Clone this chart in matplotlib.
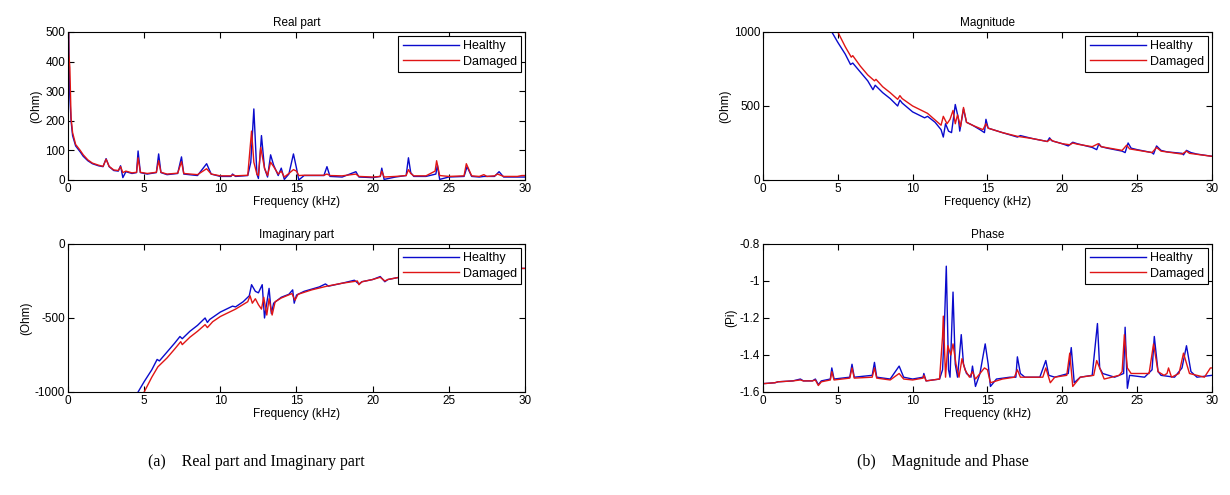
import numpy as np
import matplotlib.pyplot as plt
from matplotlib.ticker import FormatStrFormatter

plt.rcParams['font.family'] = ['Liberation Sans', 'DejaVu Sans']
plt.rcParams['axes.unicode_minus'] = False

# values: (frequency kHz, value)
real_healthy = [(0, 800), (0.05, 480), (0.1, 300), (0.2, 200), (0.3, 150), (0.5, 115), (0.8, 95),
                (1.0, 80), (1.3, 65), (1.6, 55), (2.0, 48), (2.3, 45), (2.5, 72), (2.7, 45), (3.0, 32),
                (3.3, 30), (3.45, 48), (3.6, 8), (3.8, 28), (4.2, 22), (4.5, 25), (4.6, 98), (4.75, 25),
                (5.2, 20), (5.8, 25), (5.95, 88), (6.1, 25), (6.5, 18), (7.2, 22), (7.45, 78), (7.6, 20),
                (8.5, 15), (9.1, 55), (9.4, 20), (10, 12), (10.7, 12), (10.8, 20), (11, 12), (11.8, 15),
                (12.0, 60), (12.2, 240), (12.4, 20), (12.5, 5), (12.7, 150), (12.9, 40), (13.1, 10),
                (13.3, 85), (13.5, 50), (13.8, 15), (14.0, 40), (14.2, 2), (14.5, 20), (14.8, 88),
                (15.0, 40), (15.15, 0), (15.5, 15), (16, 15), (16.8, 15), (17.0, 45), (17.2, 12),
                (18, 10), (18.9, 28), (19.1, 10), (20, 8), (20.5, 12), (20.6, 40), (20.75, 2),
                (21.5, 10), (22.2, 15), (22.35, 75), (22.5, 25), (22.7, 12), (23.5, 12), (24.15, 20),
                (24.25, 50), (24.4, 2), (25.0, 10), (26, 12), (26.2, 45), (26.5, 12), (27, 10),
                (27.3, 12), (28, 12), (28.3, 28), (28.6, 10), (29.5, 10), (30, 10)]
real_damaged = [(0, 800), (0.05, 430), (0.12, 380), (0.2, 210), (0.3, 160), (0.5, 120), (0.8, 100),
                (1.0, 85), (1.3, 68), (1.6, 57), (2.0, 50), (2.3, 46), (2.5, 70), (2.7, 46), (3.0, 34),
                (3.3, 32), (3.45, 45), (3.6, 25), (3.8, 30), (4.2, 24), (4.5, 26), (4.6, 75), (4.75, 26),
                (5.2, 22), (5.8, 26), (5.95, 65), (6.1, 26), (6.5, 20), (7.2, 23), (7.45, 62), (7.6, 22),
                (8.5, 18), (9.1, 38), (9.4, 20), (10, 14), (10.7, 14), (10.8, 17), (11, 14), (11.8, 16),
                (12.05, 165), (12.2, 60), (12.4, 20), (12.5, 15), (12.65, 110), (12.9, 40), (13.1, 15),
                (13.3, 60), (13.5, 45), (13.8, 20), (14.0, 30), (14.2, 10), (14.5, 22), (14.8, 35),
                (15.0, 30), (15.15, 15), (15.5, 16), (16, 16), (16.8, 16), (17.0, 20), (17.2, 15),
                (18, 14), (18.9, 20), (19.1, 12), (20, 10), (20.5, 12), (20.6, 30), (20.75, 10),
                (21.5, 12), (22.2, 15), (22.35, 35), (22.5, 22), (22.7, 14), (23.5, 14), (24.1, 30),
                (24.2, 65), (24.4, 15), (25.0, 12), (26, 14), (26.15, 55), (26.5, 14), (27, 12),
                (27.3, 18), (27.5, 12), (28, 14), (28.2, 20), (28.6, 12), (29.5, 12), (29.8, 15), (30, 15)]

imag_healthy = [(4.0, -1150), (4.6, -1000), (5.0, -930), (5.5, -850), (5.85, -780), (6.0, -790),
                (6.5, -730), (7.0, -670), (7.35, -625), (7.5, -640), (8.0, -590), (8.5, -550),
                (9.0, -500), (9.15, -530), (9.3, -510), (10, -460), (10.8, -420), (11.0, -425),
                (11.5, -390), (11.9, -350), (12.05, -275), (12.3, -320), (12.5, -330), (12.75, -275),
                (12.9, -500), (13.0, -430), (13.2, -300), (13.35, -470), (13.5, -400), (14, -360),
                (14.5, -340), (14.75, -310), (14.85, -400), (15.0, -345), (15.5, -320), (16, -305),
                (16.5, -290), (16.9, -270), (17.1, -285), (18, -265), (18.8, -245), (19.1, -270),
                (19.3, -255), (20, -240), (20.5, -220), (20.8, -255), (21.0, -240), (22, -220),
                (23, -205), (24, -190), (24.3, -195), (25, -185), (26, -175), (27, -170), (28, -168),
                (29, -165), (30, -165)]
imag_damaged = [(4.5, -1100), (5.0, -1000), (5.5, -900), (5.9, -830), (6.5, -770), (7.0, -710),
                (7.4, -660), (7.5, -680), (8, -630), (8.5, -590), (9.0, -545), (9.15, -565),
                (9.5, -525), (10, -490), (11, -440), (11.8, -390), (11.95, -350), (12.1, -400),
                (12.3, -370), (12.5, -410), (12.7, -440), (12.85, -360), (13.05, -480), (13.2, -370),
                (13.4, -480), (13.6, -390), (14, -365), (14.7, -335), (14.9, -380), (15.1, -340),
                (16, -310), (17, -285), (18, -265), (19, -250), (19.1, -275), (19.3, -255), (20, -240),
                (20.5, -225), (20.8, -250), (21, -240), (22, -220), (23, -205), (24, -192), (25, -185),
                (26, -176), (27, -170), (28, -168), (29, -165), (30, -165)]

mag_healthy = [(4.0, 1100), (4.6, 1000), (5.0, 930), (5.5, 850), (5.85, 780), (6.0, 790), (6.5, 730),
               (7.0, 670), (7.35, 610), (7.5, 640), (8, 590), (8.5, 550), (9.0, 500), (9.15, 540),
               (9.3, 520), (10, 460), (10.8, 420), (11, 430), (11.5, 390), (11.9, 340), (12.05, 290),
               (12.2, 380), (12.4, 330), (12.6, 320), (12.85, 510), (13.05, 420), (13.15, 330),
               (13.4, 480), (13.6, 390), (14, 370), (14.5, 340), (14.8, 320), (14.9, 410), (15.05, 350),
               (16, 320), (17, 290), (17.2, 300), (18, 280), (19, 260), (19.15, 285), (19.3, 265),
               (20, 245), (20.4, 230), (20.7, 255), (21, 245), (22, 220), (22.3, 205), (22.45, 245),
               (22.6, 225), (23, 215), (24, 195), (24.2, 185), (24.4, 250), (24.6, 215), (25, 205),
               (26, 185), (26.1, 175), (26.3, 230), (26.6, 200), (27, 190), (28, 180), (28.1, 170),
               (28.3, 200), (28.6, 185), (29, 175), (30, 160)]
mag_damaged = [(4.5, 1100), (5.0, 1000), (5.5, 900), (5.9, 830), (6.0, 840), (6.5, 770), (7.0, 710),
               (7.45, 670), (7.55, 680), (8, 630), (8.5, 590), (9.0, 545), (9.15, 570), (9.3, 550),
               (10, 500), (11, 450), (11.9, 370), (12.05, 430), (12.3, 380), (12.5, 410), (12.7, 470),
               (12.85, 380), (13.0, 440), (13.2, 360), (13.4, 490), (13.6, 390), (14, 370), (14.7, 340),
               (14.9, 380), (15.05, 350), (16, 320), (17, 295), (18, 280), (19, 260), (19.2, 275),
               (19.4, 262), (20, 245), (20.5, 238), (20.7, 250), (21, 242), (22, 225), (22.4, 245),
               (22.6, 225), (24, 200), (24.3, 235), (24.5, 210), (26, 185), (26.3, 220), (26.6, 195),
               (28, 175), (28.3, 195), (28.5, 180), (30, 160)]

phase_healthy = [(0, -1.555), (0.8, -1.55), (1, -1.545), (2, -1.54), (2.5, -1.53), (2.7, -1.54),
                 (3.3, -1.54), (3.5, -1.53), (3.7, -1.56), (3.9, -1.54), (4.5, -1.53), (4.6, -1.47),
                 (4.75, -1.53), (5.8, -1.52), (5.95, -1.45), (6.1, -1.52), (7.3, -1.51), (7.45, -1.44),
                 (7.6, -1.52), (8.5, -1.53), (9.1, -1.46), (9.4, -1.52), (10, -1.53), (10.7, -1.52),
                 (10.75, -1.50), (10.9, -1.54), (11.8, -1.53), (12.0, -1.48), (12.1, -1.30),
                 (12.25, -0.92), (12.4, -1.48), (12.5, -1.52), (12.7, -1.06), (12.85, -1.45),
                 (13.0, -1.52), (13.25, -1.29), (13.4, -1.45), (13.6, -1.50), (13.9, -1.52),
                 (14.0, -1.46), (14.2, -1.57), (14.5, -1.50), (14.85, -1.34), (15.05, -1.45),
                 (15.2, -1.57), (15.6, -1.53), (16.5, -1.52), (16.9, -1.52), (17.0, -1.41),
                 (17.2, -1.50), (17.5, -1.52), (18.5, -1.52), (18.9, -1.43), (19.1, -1.51),
                 (19.5, -1.52), (20.4, -1.50), (20.6, -1.36), (20.8, -1.55), (21.2, -1.52),
                 (22.0, -1.51), (22.35, -1.23), (22.5, -1.47), (22.7, -1.50), (23.5, -1.52),
                 (24.1, -1.50), (24.2, -1.25), (24.35, -1.58), (24.5, -1.51), (25.5, -1.52),
                 (26.0, -1.48), (26.15, -1.30), (26.4, -1.49), (26.6, -1.51), (27.5, -1.52),
                 (28.0, -1.47), (28.3, -1.35), (28.6, -1.49), (29, -1.52), (30, -1.51)]
phase_damaged = [(0, -1.555), (0.8, -1.55), (1, -1.545), (2, -1.54), (2.5, -1.535), (2.7, -1.54),
                 (3.3, -1.54), (3.5, -1.535), (3.7, -1.565), (3.9, -1.545), (4.5, -1.535), (4.6, -1.49),
                 (4.75, -1.535), (5.8, -1.525), (5.95, -1.47), (6.1, -1.525), (7.3, -1.52), (7.45, -1.47),
                 (7.6, -1.525), (8.5, -1.535), (9.1, -1.50), (9.4, -1.53), (10, -1.535), (10.7, -1.525),
                 (10.75, -1.51), (10.9, -1.54), (11.8, -1.53), (12.0, -1.30), (12.05, -1.19),
                 (12.2, -1.52), (12.35, -1.35), (12.55, -1.40), (12.7, -1.34), (12.9, -1.45),
                 (13.1, -1.52), (13.3, -1.42), (13.5, -1.48), (13.8, -1.52), (14.0, -1.49),
                 (14.2, -1.53), (14.8, -1.47), (15.0, -1.48), (15.2, -1.55), (16, -1.53), (16.8, -1.52),
                 (17.0, -1.48), (17.2, -1.52), (17.5, -1.52), (18.7, -1.52), (18.9, -1.47),
                 (19.2, -1.55), (19.5, -1.52), (20.3, -1.51), (20.5, -1.39), (20.7, -1.57),
                 (21.2, -1.52), (22.1, -1.51), (22.3, -1.43), (22.5, -1.47), (22.8, -1.53),
                 (23.8, -1.51), (24.0, -1.49), (24.15, -1.29), (24.35, -1.47), (24.6, -1.50),
                 (25.8, -1.50), (26.1, -1.34), (26.4, -1.49), (26.8, -1.51), (27.0, -1.50),
                 (27.1, -1.47), (27.3, -1.52), (27.8, -1.50), (28.1, -1.39), (28.5, -1.50),
                 (29.5, -1.52), (29.9, -1.47), (30, -1.47)]

panels = [
    ('Real part', real_healthy, real_damaged, '(Ohm)', (0, 500), np.arange(0, 501, 100), [0.0553, 0.6364, 0.3715, 0.299]),
    ('Imaginary part', imag_healthy, imag_damaged, '(Ohm)', (-1000, 0), [-1000, -500, 0], [0.0553, 0.2081, 0.3715, 0.299]),
    ('Magnitude', mag_healthy, mag_damaged, '(Ohm)', (0, 1000), [0, 500, 1000], [0.6203, 0.6364, 0.365, 0.299]),
    ('Phase', phase_healthy, phase_damaged, '(Pi)', (-1.6, -0.8), [-1.6, -1.4, -1.2, -1.0, -0.8], [0.6203, 0.2081, 0.365, 0.299]),
]

fig = plt.figure(figsize=(12.3, 4.95), dpi=100)
for title, h, d, ylab, ylim, yt, pos in panels:
    ax = fig.add_axes(pos)
    hx, hy = zip(*h)
    dx, dy = zip(*d)
    ax.plot(hx, hy, color='#0a0acc', lw=1.0, label='Healthy')
    ax.plot(dx, dy, color='#e01515', lw=1.0, label='Damaged')
    ax.set_xlim(0, 30)
    ax.set_ylim(*ylim)
    ax.set_xticks(np.arange(0, 31, 5))
    ax.set_yticks(yt)
    if ylab == '(Pi)':
        ax.yaxis.set_major_formatter(FormatStrFormatter('%g'))
    ax.tick_params(direction='in', top=True, right=True, labelsize=8.5, length=4, pad=2, width=0.8)
    ax.set_title(title, fontsize=8.5, pad=4)
    ax.set_xlabel('Frequency (kHz)', fontsize=8.5, labelpad=1)
    ax.set_ylabel(ylab, fontsize=8.5, labelpad=2)
    for s in ax.spines.values():
        s.set_linewidth(0.8)
    leg = ax.legend(loc='upper right', fontsize=9, handlelength=4.5, fancybox=False,
                    framealpha=1, borderaxespad=0.3, handletextpad=0.3, borderpad=0.35,
                    labelspacing=0.3)
    leg.get_frame().set_edgecolor('black')
    leg.get_frame().set_linewidth(0.8)

fig.text(0.12, 0.058, '(a)    Real part and Imaginary part', fontsize=11.5, family='Liberation Serif')
fig.text(0.697, 0.058, '(b)    Magnitude and Phase', fontsize=11.5, family='Liberation Serif')

fig.savefig('out.png', dpi=100)
